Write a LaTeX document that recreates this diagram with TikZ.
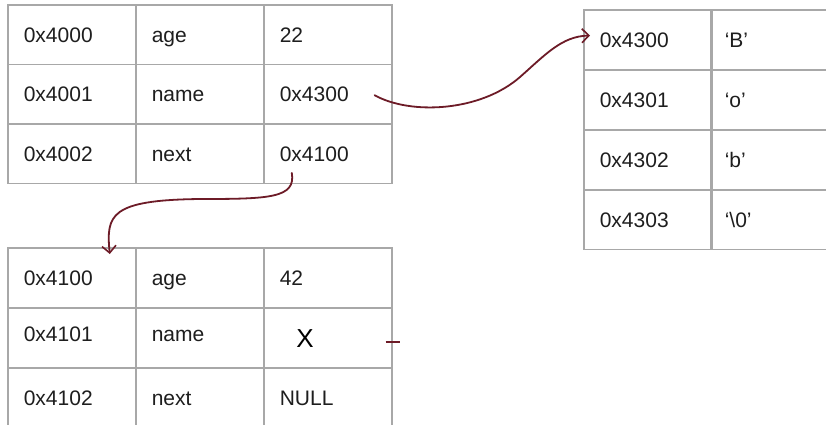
\documentclass[tikz,border=0pt]{standalone}
\usepackage{fontspec}
\setmainfont{Liberation Sans}
\usetikzlibrary{arrows.meta}
\definecolor{gridgray}{HTML}{A8A8A8}
\definecolor{inkred}{HTML}{6D1B27}
\definecolor{textink}{HTML}{1E1E1E}
\tikzset{
  cell/.style={draw=gridgray, line width=1.6pt, rectangle, anchor=north west,
    inner xsep=16pt, inner ysep=0pt, text width=96pt, align=left,
    minimum height=59.6pt, text height=15pt, text depth=0pt,
    text=textink, font=\fontsize{21}{25}\selectfont},
  wide/.style={text width=104pt, inner xsep=14pt},
  raised/.style={text depth=8pt},
  ptr/.style={draw=inkred, line width=1.8pt, line cap=round},
  tip/.style={-{Straight Barb[length=7pt,width=14pt,line width=1.6pt]}}
}
\begin{document}
\begin{tikzpicture}[x=1pt,y=-1pt]
\useasboundingbox (0,0) rectangle (826,424);
\clip (0,0) rectangle (826,424);
\fill[white] (0,0) rectangle (826,424);

% first struct at 0x4000
\node[cell] (a11) at (7,4)     {0x4000};
\node[cell] (a12) at (135,4)   {age};
\node[cell] (a13) at (263,4)   {22};
\node[cell] (a21) at (7,63.6)  {0x4001};
\node[cell] (a22) at (135,63.6){name};
\node[cell] (a23) at (263,63.6){0x4300};
\node[cell] (a31) at (7,123.2) {0x4002};
\node[cell] (a32) at (135,123.2){next};
\node[cell] (a33) at (263,123.2){0x4100};

% second struct at 0x4100
\node[cell] (b11) at (7,247)   {0x4100};
\node[cell] (b12) at (135,247) {age};
\node[cell] (b13) at (263,247) {42};
\node[cell,raised] (b21) at (7,307)   {0x4101};
\node[cell,raised] (b22) at (135,307) {name};
\node[cell] (b23) at (263,307) {};
\node[cell] (b31) at (7,367)   {0x4102};
\node[cell] (b32) at (135,367) {next};
\node[cell] (b33) at (263,367) {NULL};
\node[text=black, font=\fontsize{26}{30}\selectfont, inner sep=0pt] (xmark) at (305,339) {X};

% character array at 0x4300
\node[cell] (c11) at (583,9)   {0x4300};
\node[cell,wide] (c12) at (710,9)   {‘B’};
\node[cell] (c21) at (583,69)  {0x4301};
\node[cell,wide] (c22) at (710,69)  {‘o’};
\node[cell] (c31) at (583,129) {0x4302};
\node[cell,wide] (c32) at (710,129) {‘b’};
\node[cell] (c41) at (583,189) {0x4303};
\node[cell,wide] (c42) at (710,189) {‘\textbackslash 0’};

% name pointer -> 0x4300
\draw[ptr,tip] ([shift={(-18,1)}]a23.east)
  .. controls (410,115) and (480,112) .. (520,77)
  .. controls (545,55) and (562,36) .. ([shift={(7,-4)}]c11.west);

% next pointer -> 0x4100
\draw[ptr,tip] ([shift={(-36,-11.5)}]a33.south)
  .. controls (296,198) and (270,199) .. (200,199)
  .. controls (110,200) and (106,215) .. ([shift={(38,7)}]b11.north);

% crossed-out name pointer stub
\draw[ptr,line cap=butt] ([shift={(-7,4)}]b23.east) -- ([shift={(7,4)}]b23.east);
\end{tikzpicture}
\end{document}
